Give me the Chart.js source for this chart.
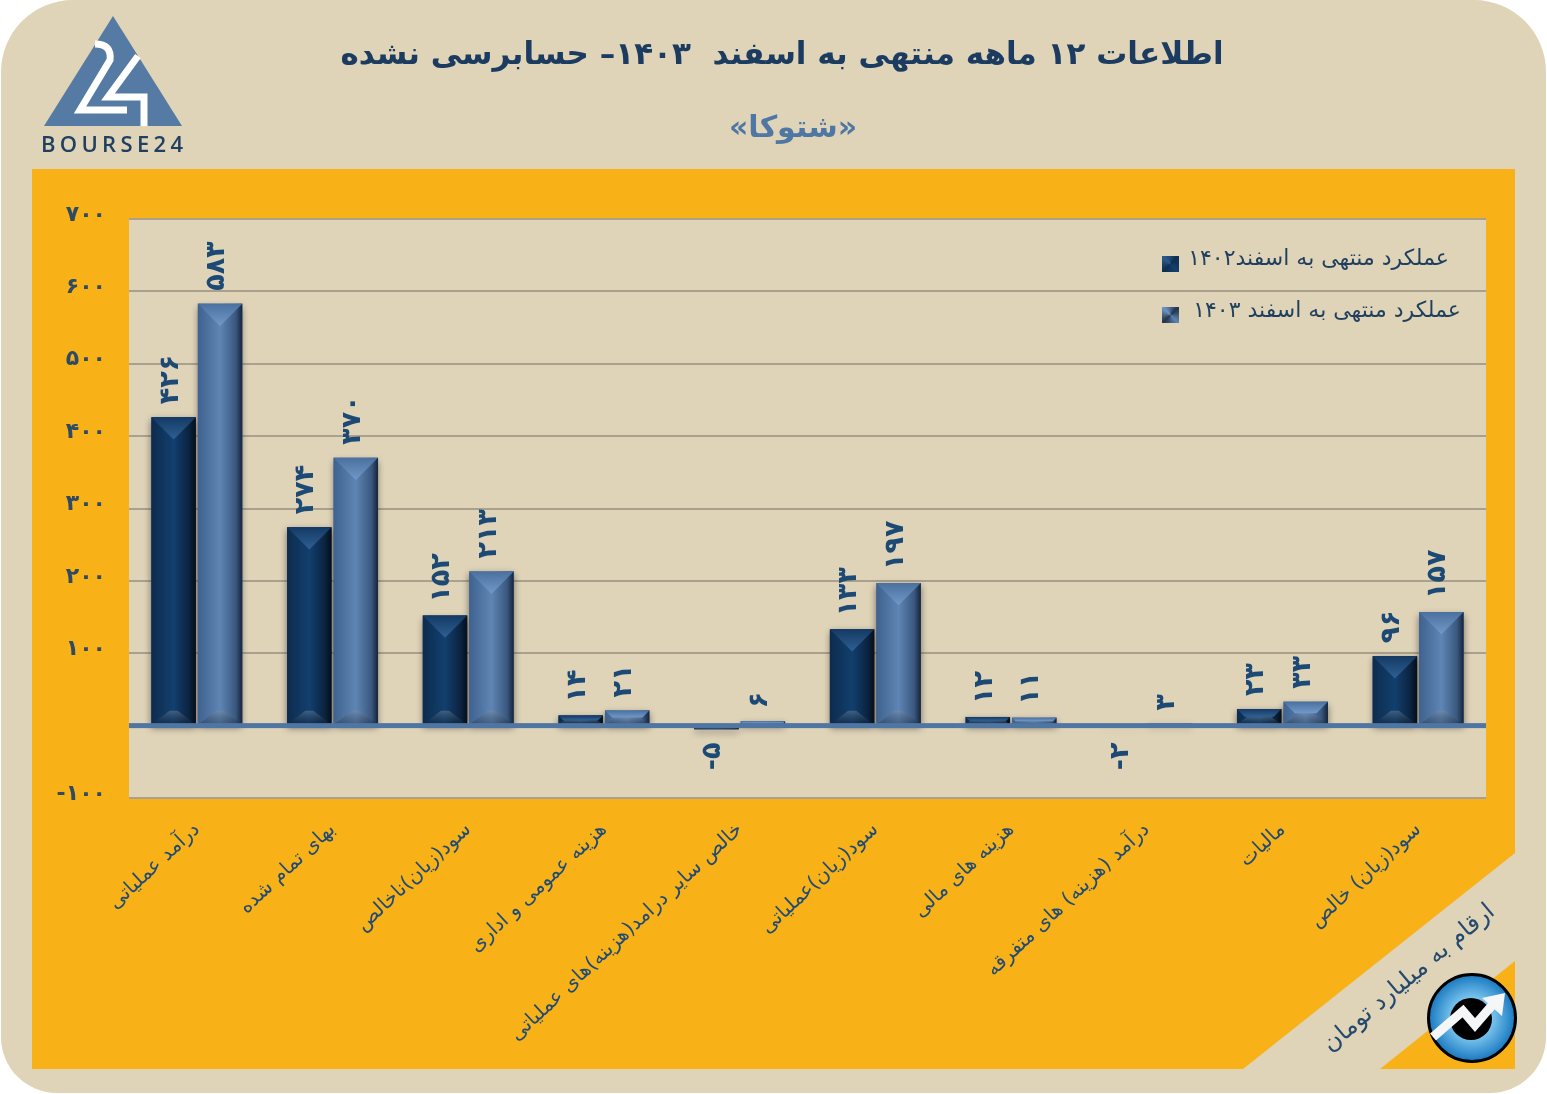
<!DOCTYPE html>
<html lang="fa">
<head>
<meta charset="utf-8">
<title>شتوکا</title>
<script src="https://cdn.jsdelivr.net/npm/chart.js"></script>
<style>
  html, body { margin: 0; padding: 0; background: #fff; }
  #page { position: relative; width: 1547px; height: 1094px; overflow: hidden; font-family: "DejaVu Sans", sans-serif; }
  #card { position: absolute; left: 1px; top: 0; width: 1545px; height: 1093px; background: #dfd3b8; border-radius: 72px 72px 56px 56px; }
  #back, #logo, #stamp { position: absolute; left: 0; top: 0; }
  #chart { position: absolute; left: 0; top: 0; }
  .txt { position: absolute; white-space: nowrap; direction: rtl; }
  #title { left: 282px; width: 1000px; top: 35px; text-align: center; font-size: 31px; font-weight: bold; color: #1b3c60; }
  #subtitle { left: 593px; width: 400px; top: 109px; text-align: center; font-size: 30px; font-weight: bold; color: #4f77a3; }
  .leg { font-size: 22px; color: #1f3f5f; }
  .swatch { position: absolute; width: 17px; height: 16px; }
  #note { left: 1258px; top: 963px; width: 300px; text-align: center; font-size: 24px; color: #24496e; transform: rotate(-40deg); }
</style>
</head>
<body>
<div id="page">
  <div id="card"></div>
  <svg id="back" width="1547" height="1094">
    <polygon points="32,169 1515,169 1515,853 1243,1069 32,1069" fill="#f8b218"/>
    <polygon points="1515,961 1515,1069 1380,1069" fill="#f8b218"/>
  </svg>
  <canvas id="chart" width="1547" height="1094"></canvas>
  <svg id="logo" width="200" height="160">
    <polygon points="113,16 44,126 182,126" fill="#557aa3"/>
    <path d="M95,44 Q112,44 110,60 L80,110 L127,110" fill="none" stroke="#fff" stroke-width="7"/>
    <path d="M138,56 L108,97 L144,97 L144,126" fill="none" stroke="#fff" stroke-width="7"/>
    <text x="41" y="152" font-family="Open Sans, sans-serif" font-size="22" font-weight="600" fill="#1f4061" textLength="142" lengthAdjust="spacing">BOURSE24</text>
  </svg>
  <div id="title" class="txt">اطلاعات ۱۲ ماهه منتهی به اسفند&nbsp;&nbsp;۱۴۰۳– حسابرسی نشده</div>
  <div id="subtitle" class="txt">«شتوکا»</div>
  <div class="swatch" style="left:1162px;top:256px;background:conic-gradient(from 45deg,#0d2e50,#123f6e,#0d2e50,#2c5a8c,#0d2e50)"></div>
  <div class="txt leg" style="right:98px;top:245px">عملکرد منتهی به اسفند۱۴۰۲</div>
  <div class="swatch" style="left:1162px;top:307px;background:conic-gradient(from 45deg,#22344c,#5c83b2,#22344c,#6e95c5,#22344c)"></div>
  <div class="txt leg" style="right:86px;top:297px">عملکرد منتهی به اسفند ۱۴۰۳</div>
  <div id="note" class="txt">ارقام به میلیارد تومان</div>
  <svg id="stamp" width="1547" height="1094">
    <defs>
      <radialGradient id="ball"><stop offset="0.45" stop-color="#7cc6ef"/><stop offset="1" stop-color="#1878bf"/></radialGradient>
    </defs>
    <circle cx="1472" cy="1018" r="43.5" fill="url(#ball)" stroke="#000" stroke-width="3"/>
    <circle cx="1471" cy="1019" r="21" fill="#000"/>
    <polyline points="1433,1037 1463,1011 1475,1025 1495,1002" fill="none" stroke="#f4f6f8" stroke-width="9"/>
    <polygon points="1505,993 1482,998 1502,1016" fill="#f4f6f8"/>
  </svg>
</div>
<script>
const categories = ['درآمد عملیاتی', 'بهای تمام شده', 'سود(زیان)ناخالص', 'هزینه عمومی و اداری',
  'خالص سایر درامد(هزینه)های عملیاتی', 'سود(زیان)عملیاتی', 'هزینه های مالی',
  'درآمد (هزینه) های متفرقه', 'مالیات', 'سود(زیان) خالص'];
const values1402 = [426, 274, 152, 14, -5, 133, 12, -2, 23, 96];
const values1403 = [583, 370, 213, 21, 6, 197, 11, 3, 33, 157];
const labels1402 = ['۴۲۶', '۲۷۴', '۱۵۲', '۱۴', '-۵', '۱۳۳', '۱۲', '-۲', '۲۳', '۹۶'];
const labels1403 = ['۵۸۳', '۳۷۰', '۲۱۳', '۲۱', '۶', '۱۹۷', '۱۱', '۳', '۳۳', '۱۵۷'];
const yTickLabels = ['-۱۰۰', '', '۱۰۰', '۲۰۰', '۳۰۰', '۴۰۰', '۵۰۰', '۶۰۰', '۷۰۰'];
const seriesNames = ['عملکرد منتهی به اسفند۱۴۰۲', 'عملکرد منتهی به اسفند ۱۴۰۳'];

const FONT = '"DejaVu Sans", sans-serif';

const looks = [
  { side: ['#0d2c4e', '#123f6e', '#0b2340', '#050d18'], top: ['#143a64', '#2f6094'] },
  { side: ['#3f628f', '#5e85b4', '#3a587f', '#15243a'], top: ['#4a709e', '#7199c9'] }
];
const valueLabels = [labels1402, labels1403];

// paints the bevelled look over each bar and writes the rotated value on it
const bevelBars = {
  id: 'bevelBars',
  beforeDraw(chart) {
    const a = chart.chartArea;
    chart.ctx.fillStyle = '#dfd3b8';
    chart.ctx.fillRect(a.left, a.top, a.width, a.height);
  },
  afterDatasetsDraw(chart) {
    const ctx = chart.ctx;
    const zero = chart.scales.y.getPixelForValue(0);
    chart.data.datasets.forEach((ds, di) => {
      const look = looks[di];
      chart.getDatasetMeta(di).data.forEach((bar, i) => {
        const p = bar.getProps(['x', 'y', 'base', 'width'], true);
        const x0 = p.x - p.width / 2, x1 = p.x + p.width / 2;
        const top = Math.min(p.y, p.base), bot = Math.max(p.y, p.base);
        const h = bot - top;
        const d = Math.min(p.width / 2, h / 2);
        const bd = Math.min(14, h / 2);

        const g = ctx.createLinearGradient(x0, 0, x1, 0);
        g.addColorStop(0, look.side[0]);
        g.addColorStop(0.5, look.side[1]);
        g.addColorStop(0.85, look.side[2]);
        g.addColorStop(1, look.side[3]);
        ctx.save();
        ctx.shadowColor = 'rgba(30,30,30,0.55)';
        ctx.shadowBlur = 7;
        ctx.shadowOffsetY = 3;
        ctx.fillStyle = g;
        ctx.fillRect(x0, top, p.width, h);
        ctx.restore();

        const tg = ctx.createLinearGradient(0, top, 0, top + d);
        tg.addColorStop(0, look.top[0]);
        tg.addColorStop(1, look.top[1]);
        ctx.fillStyle = tg;
        ctx.beginPath();
        ctx.moveTo(x0, top);
        ctx.lineTo(x1, top);
        ctx.lineTo(x1 - d, top + d);
        ctx.lineTo(x0 + d, top + d);
        ctx.closePath();
        ctx.fill();

        const bg = ctx.createLinearGradient(0, bot - bd, 0, bot);
        bg.addColorStop(0, 'rgba(125,145,165,0.42)');
        bg.addColorStop(1, 'rgba(10,20,35,0.3)');
        ctx.fillStyle = bg;
        ctx.beginPath();
        ctx.moveTo(x0, bot);
        ctx.lineTo(x1, bot);
        ctx.lineTo(x1 - bd * 1.3, bot - bd);
        ctx.lineTo(x0 + bd * 1.3, bot - bd);
        ctx.closePath();
        ctx.fill();
      });
    });

    // zero line sits on top of the bar feet
    ctx.fillStyle = '#4f76a2';
    ctx.fillRect(chart.chartArea.left, zero - 2.5, chart.chartArea.width, 5);

    chart.data.datasets.forEach((ds, di) => {
      chart.getDatasetMeta(di).data.forEach((bar, i) => {
        const negative = ds.data[i] < 0;
        ctx.save();
        ctx.translate(bar.x - 3, negative ? bar.base + 16 : bar.y - 13);
        ctx.rotate(-Math.PI / 2);
        ctx.font = 'bold 27px ' + FONT;
        ctx.fillStyle = '#1d4a75';
        ctx.textBaseline = 'middle';
        ctx.textAlign = negative ? 'right' : 'left';
        ctx.fillText(valueLabels[di][i], 0, 0);
        ctx.restore();
      });
    });
  }
};

new Chart(document.getElementById('chart'), {
  type: 'bar',
  data: {
    labels: categories,
    datasets: [
      { label: seriesNames[0], data: values1402, backgroundColor: '#123f6e' },
      { label: seriesNames[1], data: values1403, backgroundColor: '#5e85b4' }
    ]
  },
  options: {
    responsive: false,
    animation: false,
    categoryPercentage: 0.685,
    barPercentage: 0.957,
    layout: { padding: { top: 219, right: 61, left: 0, bottom: 0 } },
    plugins: { legend: { display: false }, tooltip: { enabled: false } },
    scales: {
      x: {
        afterFit(scale) { scale.height = 296; },
        grid: { display: false },
        border: { display: false },
        ticks: {
          autoSkip: false,
          minRotation: 43,
          maxRotation: 43,
          padding: 12,
          color: '#1f4a75',
          font: { family: FONT, size: 20 }
        }
      },
      y: {
        min: -100,
        max: 700,
        afterFit(scale) { scale.width = 129; },
        border: { display: false },
        grid: { color: '#a9a18d', lineWidth: 2, drawTicks: false },
        ticks: {
          stepSize: 100,
          padding: 23,
          labelOffset: -4,
          color: '#2f4a63',
          font: { family: FONT, size: 22, weight: 'bold' },
          callback: (value, index) => yTickLabels[index]
        }
      }
    }
  },
  plugins: [bevelBars]
});
</script>
</body>
</html>
